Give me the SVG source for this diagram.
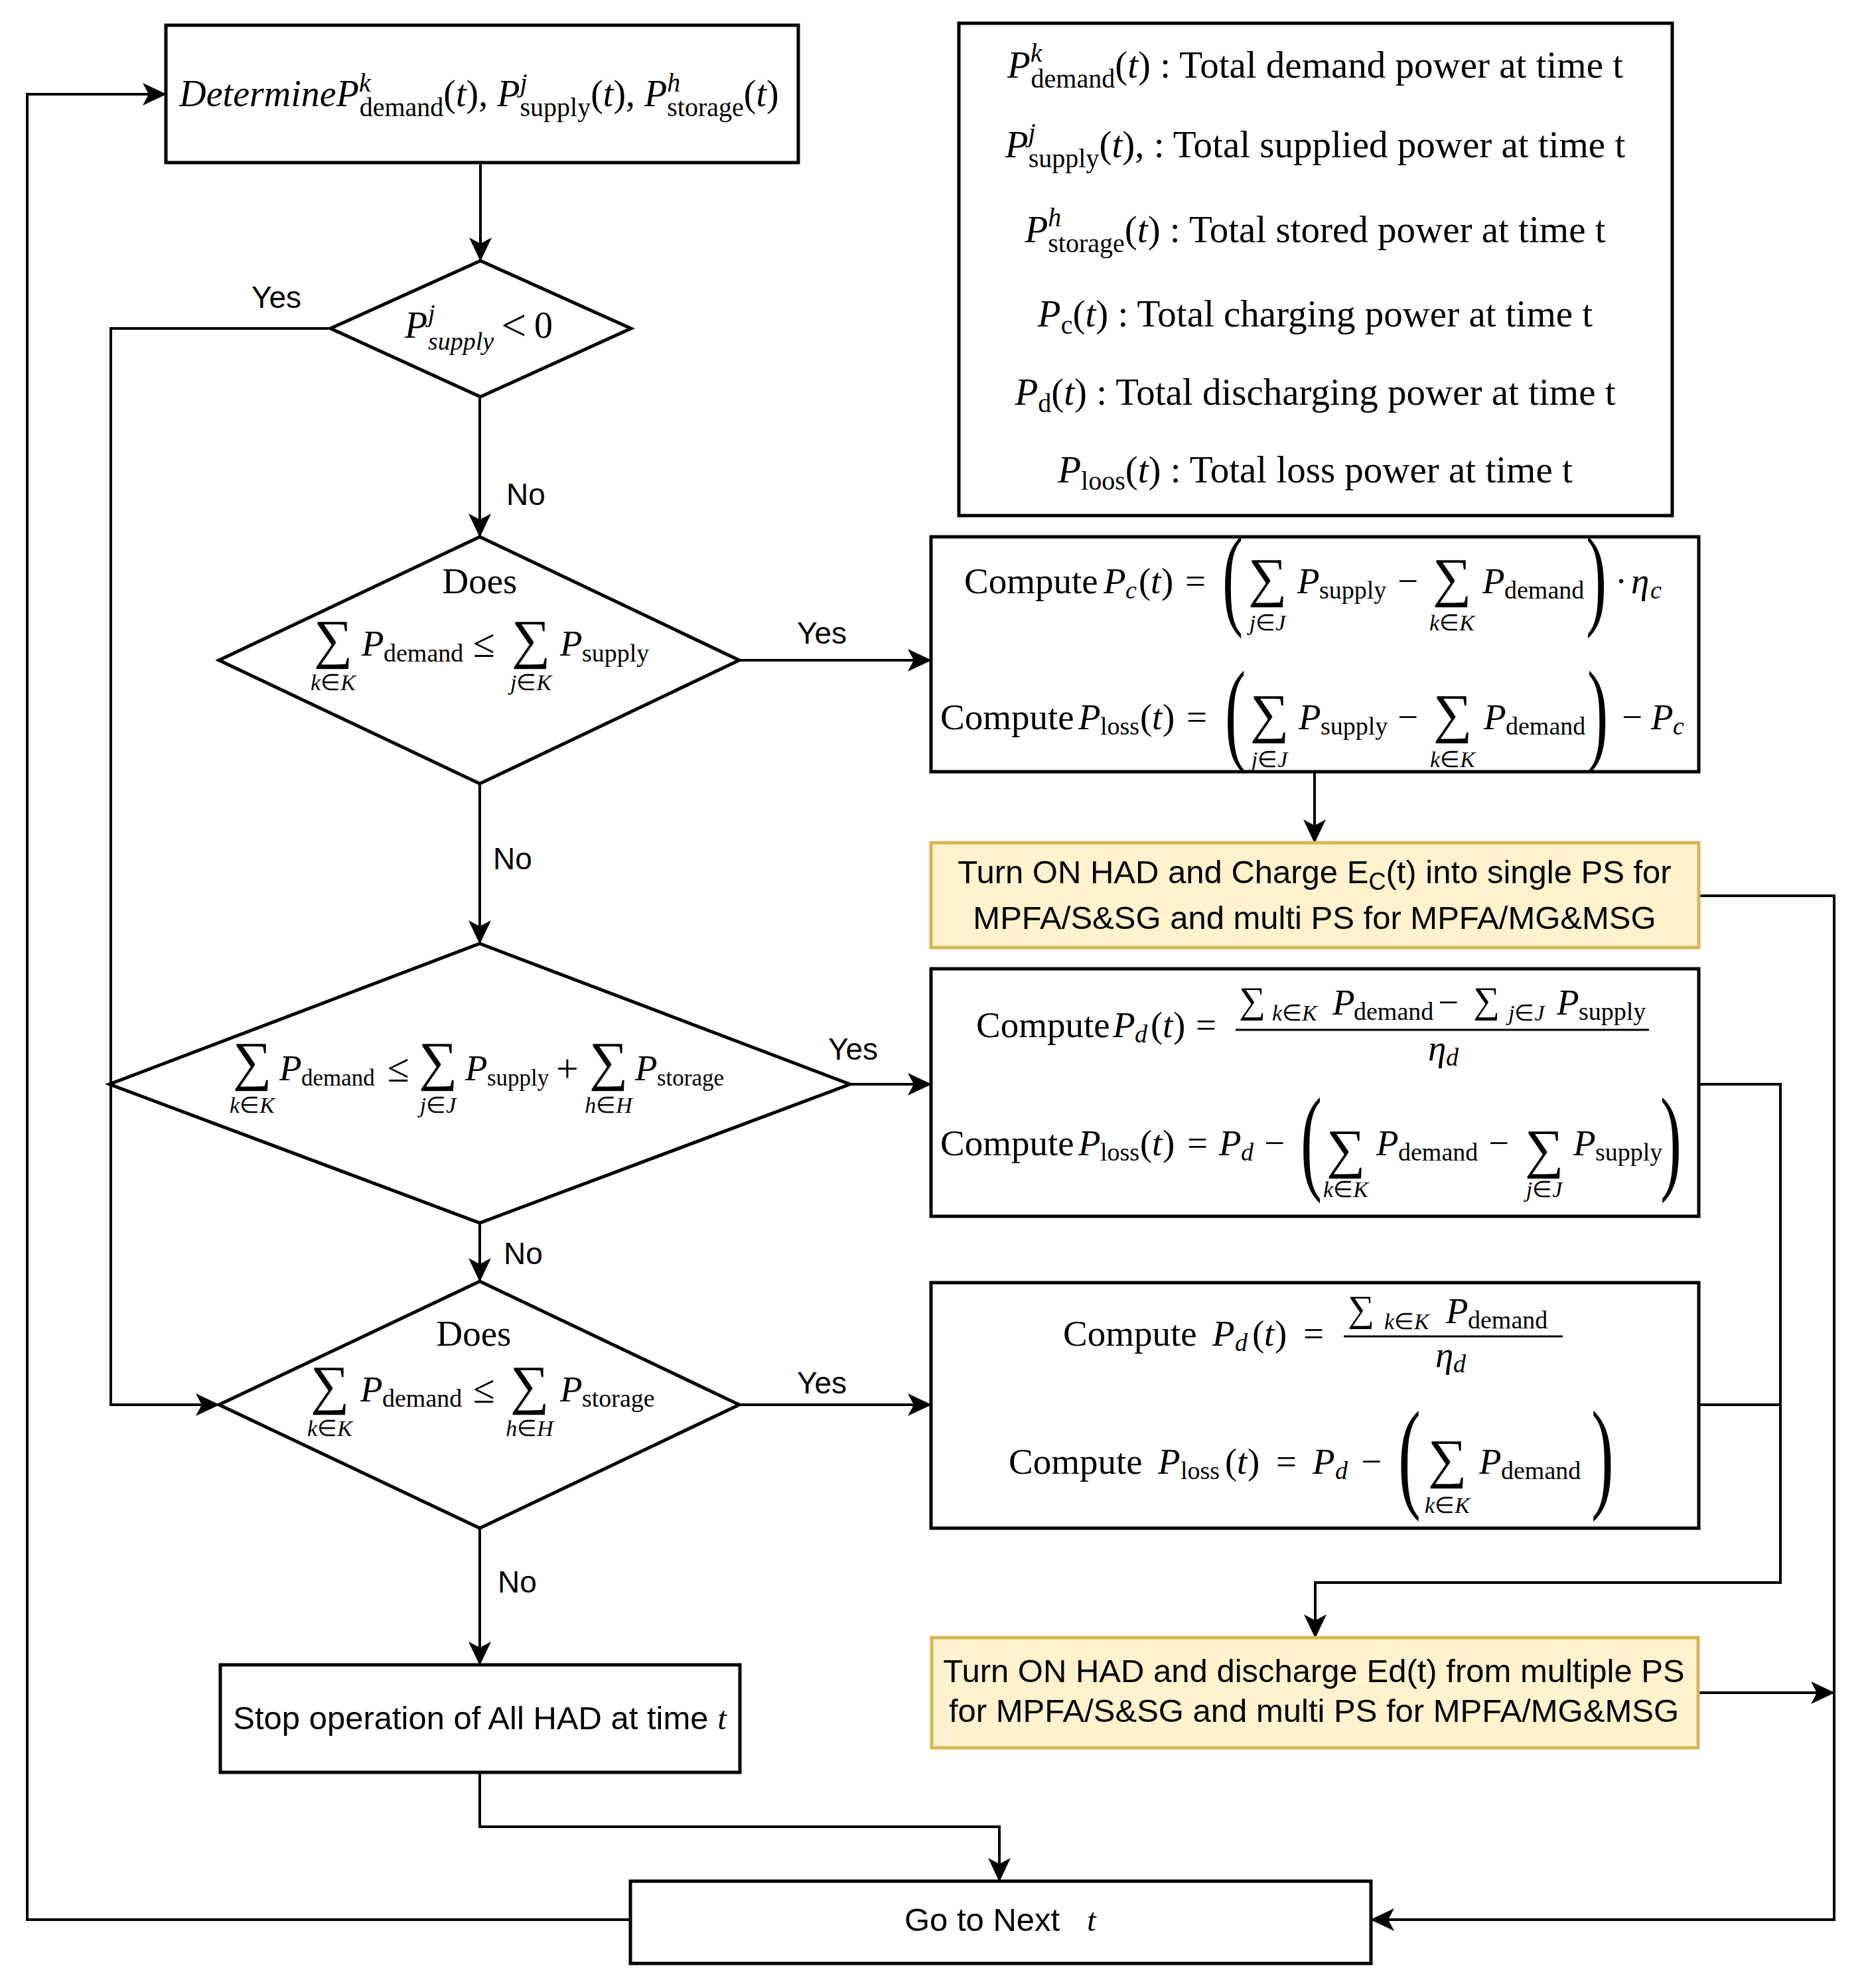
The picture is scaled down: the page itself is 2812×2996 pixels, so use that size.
<svg xmlns="http://www.w3.org/2000/svg" width="2812" height="2996" viewBox="0 0 2812 2996">
<defs>
<style>
.box{fill:#fff;stroke:#000;stroke-width:5}
.yel{fill:#fff2cc;stroke:#d6b656;stroke-width:5}
.ln{fill:none;stroke:#000;stroke-width:4}
.ar{marker-end:url(#ah)}
.m{font-family:"Liberation Serif","Times New Roman",serif;font-size:55px;fill:#000}
.i{font-style:italic}
.sb{font-size:38px}
.sb2{font-size:35px}
.sm{font-size:34px}
.rel{font-size:60px}
.sum{font-family:"Liberation Serif","Times New Roman",serif;font-size:82px;fill:#000}
.ts{font-size:56px}
.lab{font-family:"Liberation Sans",Arial,sans-serif;font-size:46px;fill:#000}
.nt{font-family:"Liberation Sans",Arial,sans-serif;font-size:49px;fill:#000}
.frac{stroke:#000;stroke-width:3}
</style>
<marker id="ah" markerUnits="userSpaceOnUse" markerWidth="36" markerHeight="34" viewBox="0 0 36 34" refX="35" refY="17" orient="auto">
<path d="M0,0 L36,17 L0,34 L9,17 Z" fill="#000"/>
</marker>
</defs>
<rect width="2812" height="2996" fill="#fff"/>

<g id="connectors">
<path class="ln ar" d="M724,245 L724,393"/>
<path class="ln ar" d="M498,495 L167,495 L167,2117 L330,2117"/>
<path class="ln ar" d="M723,598 L723,809"/>
<path class="ln ar" d="M1114,995 L1403,995"/>
<path class="ln ar" d="M723,1181 L723,1422"/>
<path class="ln ar" d="M1281,1634 L1403,1634"/>
<path class="ln ar" d="M723,1843 L723,1931"/>
<path class="ln ar" d="M1114,2117 L1403,2117"/>
<path class="ln ar" d="M723,2303 L723,2509"/>
<path class="ln ar" d="M1981,1163 L1981,1270"/>
<path class="ln ar" d="M2560,1350 L2764,1350 L2764,2893 L2066,2893"/>
<path class="ln ar" d="M2560,1634 L2683,1634 L2683,2385 L1982,2385 L1982,2468"/>
<path class="ln" d="M2560,2117 L2683,2117"/>
<path class="ln ar" d="M2559,2551 L2764,2551"/>
<path class="ln ar" d="M723,2671 L723,2753 L1506,2753 L1506,2835"/>
<path class="ln ar" d="M950,2893 L41,2893 L41,142 L250,142"/>
<text class="lab" x="379" y="464">Yes</text>
<text class="lab" x="763" y="761">No</text>
<text class="lab" x="1201" y="970">Yes</text>
<text class="lab" x="743" y="1310">No</text>
<text class="lab" x="1248" y="1597">Yes</text>
<text class="lab" x="759" y="1905">No</text>
<text class="lab" x="1201" y="2100">Yes</text>
<text class="lab" x="750" y="2400">No</text>
</g>

<g id="determine">
<rect class="box" x="250" y="38" width="953" height="207"/>
<text class="m" x="722" y="160" text-anchor="middle" style="font-size:56px"><tspan class="i">DetermineP</tspan><tspan class="i" style="font-size:40px" dy="-22">k</tspan><tspan style="font-size:40px" dx="-17" dy="37">demand</tspan><tspan dy="-15">(</tspan><tspan class="i">t</tspan>), <tspan class="i">P</tspan><tspan class="i" style="font-size:40px" dy="-22">j</tspan><tspan style="font-size:40px" dx="-11" dy="37">supply</tspan><tspan dy="-15">(</tspan><tspan class="i">t</tspan>), <tspan class="i">P</tspan><tspan class="i" style="font-size:40px" dy="-22">h</tspan><tspan style="font-size:40px" dx="-20" dy="37">storage</tspan><tspan dy="-15">(</tspan><tspan class="i">t</tspan>)</text>
</g>

<g id="legend">
<rect class="box" x="1445" y="35" width="1075" height="742"/>
<text class="m" x="1982" y="117" text-anchor="middle" style="font-size:57px"><tspan class="i">P</tspan><tspan class="i" style="font-size:40px" dy="-24">k</tspan><tspan style="font-size:40px" dx="-17" dy="39">demand</tspan><tspan dy="-15">(</tspan><tspan class="i">t</tspan>) : Total demand power at time t</text>
<text class="m" x="1982" y="237" text-anchor="middle" style="font-size:57px"><tspan class="i">P</tspan><tspan class="i" style="font-size:40px" dy="-24">j</tspan><tspan style="font-size:40px" dx="-11" dy="39">supply</tspan><tspan dy="-15">(</tspan><tspan class="i">t</tspan>), : Total supplied power at time t</text>
<text class="m" x="1982" y="365" text-anchor="middle" style="font-size:57px"><tspan class="i">P</tspan><tspan class="i" style="font-size:40px" dy="-24">h</tspan><tspan style="font-size:40px" dx="-20" dy="39">storage</tspan><tspan dy="-15">(</tspan><tspan class="i">t</tspan>) : Total stored power at time t</text>
<text class="m" x="1982" y="492" text-anchor="middle" style="font-size:57px"><tspan class="i">P</tspan><tspan style="font-size:40px" dy="11">c</tspan><tspan dy="-11">(</tspan><tspan class="i">t</tspan>) : Total charging power at time t</text>
<text class="m" x="1982" y="610" text-anchor="middle" style="font-size:57px"><tspan class="i">P</tspan><tspan style="font-size:40px" dy="11">d</tspan><tspan dy="-11">(</tspan><tspan class="i">t</tspan>) : Total discharging power at time t</text>
<text class="m" x="1982" y="727" text-anchor="middle" style="font-size:57px"><tspan class="i">P</tspan><tspan style="font-size:40px" dy="11">loos</tspan><tspan dy="-11">(</tspan><tspan class="i">t</tspan>) : Total loss power at time t</text>
</g>

<g id="d1">
<polygon class="box" points="724,393 951,495 724,598 498,495"/>
<text class="m" style="font-size:56px"><tspan class="i" x="610" y="509">P</tspan><tspan class="sb i" x="645" y="485">j</tspan><tspan class="sb i" x="645" y="527">supply</tspan><tspan style="font-size:68px" x="755" y="513">&lt;</tspan><tspan x="805" y="509">0</tspan></text>
</g>

<g id="d2">
<polygon class="box" points="723,809 1114,995 723,1181 330,995"/>
<text class="m" x="723" y="894" text-anchor="middle">Does</text>
<text class="sum" x="502" y="991" text-anchor="middle">∑</text>
<text class="m sm" x="502" y="1040" text-anchor="middle"><tspan class="i">k</tspan>∈<tspan class="i">K</tspan></text>
<text class="m"><tspan class="i" x="545" y="988">P</tspan><tspan class="sb" x="578" y="997">demand</tspan><tspan class="rel" x="713" y="990">≤</tspan><tspan class="i" x="844" y="988">P</tspan><tspan class="sb" x="877" y="997">supply</tspan></text>
<text class="sum" x="800" y="991" text-anchor="middle">∑</text>
<text class="m sm" x="800" y="1040" text-anchor="middle"><tspan class="i">j</tspan>∈<tspan class="i">K</tspan></text>
</g>

<g id="d3">
<polygon class="box" points="723,1422 1281,1634 723,1843 165,1634"/>
<text class="sum" x="380" y="1627" text-anchor="middle">∑</text>
<text class="m sm" x="380" y="1677" text-anchor="middle"><tspan class="i">k</tspan>∈<tspan class="i">K</tspan></text>
<text class="sum" x="660" y="1627" text-anchor="middle">∑</text>
<text class="m sm" x="660" y="1677" text-anchor="middle"><tspan class="i">j</tspan>∈<tspan class="i">J</tspan></text>
<text class="sum" x="917" y="1627" text-anchor="middle">∑</text>
<text class="m sm" x="917" y="1677" text-anchor="middle"><tspan class="i">h</tspan>∈<tspan class="i">H</tspan></text>
<text class="m"><tspan class="i" x="421" y="1628">P</tspan><tspan class="sb2" x="454" y="1636">demand</tspan><tspan class="rel" x="584" y="1630">≤</tspan><tspan class="i" x="701" y="1628">P</tspan><tspan class="sb2" x="734" y="1636">supply</tspan><tspan class="rel" x="838" y="1630">+</tspan><tspan class="i" x="957" y="1628">P</tspan><tspan class="sb2" x="990" y="1636">storage</tspan></text>
</g>

<g id="d4">
<polygon class="box" points="723,1931 1114,2117 723,2303 330,2117"/>
<text class="m" x="714" y="2028" text-anchor="middle">Does</text>
<text class="sum" x="497" y="2115" text-anchor="middle">∑</text>
<text class="m sm" x="497" y="2164" text-anchor="middle"><tspan class="i">k</tspan>∈<tspan class="i">K</tspan></text>
<text class="sum" x="798" y="2115" text-anchor="middle">∑</text>
<text class="m sm" x="798" y="2164" text-anchor="middle"><tspan class="i">h</tspan>∈<tspan class="i">H</tspan></text>
<text class="m"><tspan class="i" x="543" y="2112">P</tspan><tspan class="sb" x="576" y="2120">demand</tspan><tspan class="rel" x="713" y="2114">≤</tspan><tspan class="i" x="844" y="2112">P</tspan><tspan class="sb" x="877" y="2120">storage</tspan></text>
</g>

<g id="compute1">
<rect class="box" x="1403" y="809" width="1157" height="354"/>
<text class="m"><tspan x="1453" y="894">Compute</tspan><tspan class="i" x="1663" y="894">P</tspan><tspan class="sb i" x="1696" y="902">c</tspan><tspan x="1716" y="894">(</tspan><tspan class="i" x="1734" y="894">t</tspan><tspan x="1750" y="894">)</tspan><tspan x="1786" y="894">=</tspan><tspan class="i" x="1955" y="894">P</tspan><tspan class="sb" x="1988" y="902">supply</tspan><tspan x="2106" y="894">−</tspan><tspan class="i" x="2234" y="894">P</tspan><tspan class="sb" x="2267" y="902">demand</tspan><tspan x="2434" y="894">·</tspan><tspan class="i" x="2458" y="894">η</tspan><tspan class="sb i" x="2487" y="902">c</tspan></text>
<text class="m" transform="translate(1842,926) scale(0.55,1)" style="font-size:170px">(</text>
<text class="m" transform="translate(2390,926) scale(0.55,1)" style="font-size:170px">)</text>
<text class="sum" x="1910" y="898" text-anchor="middle">∑</text>
<text class="m sm" x="1910" y="950" text-anchor="middle"><tspan class="i">j</tspan>∈<tspan class="i">J</tspan></text>
<text class="sum" x="2188" y="898" text-anchor="middle">∑</text>
<text class="m sm" x="2188" y="950" text-anchor="middle"><tspan class="i">k</tspan>∈<tspan class="i">K</tspan></text>
<text class="m"><tspan x="1417" y="1099">Compute</tspan><tspan class="i" x="1625" y="1099">P</tspan><tspan class="sb" x="1658" y="1107">loss</tspan><tspan x="1718" y="1099">(</tspan><tspan class="i" x="1736" y="1099">t</tspan><tspan x="1752" y="1099">)</tspan><tspan x="1788" y="1099">=</tspan><tspan class="i" x="1957" y="1099">P</tspan><tspan class="sb" x="1990" y="1107">supply</tspan><tspan x="2106" y="1099">−</tspan><tspan class="i" x="2236" y="1099">P</tspan><tspan class="sb" x="2269" y="1107">demand</tspan><tspan x="2444" y="1099">−</tspan><tspan class="i" x="2488" y="1099">P</tspan><tspan class="sb i" x="2521" y="1107">c</tspan></text>
<text class="m" transform="translate(1846,1130) scale(0.55,1)" style="font-size:171px">(</text>
<text class="m" transform="translate(2392,1130) scale(0.55,1)" style="font-size:171px">)</text>
<text class="sum" x="1913" y="1103" text-anchor="middle">∑</text>
<text class="m sm" x="1913" y="1156" text-anchor="middle"><tspan class="i">j</tspan>∈<tspan class="i">J</tspan></text>
<text class="sum" x="2189" y="1103" text-anchor="middle">∑</text>
<text class="m sm" x="2189" y="1156" text-anchor="middle"><tspan class="i">k</tspan>∈<tspan class="i">K</tspan></text>
</g>

<g id="charge">
<rect class="yel" x="1403" y="1270" width="1157" height="158"/>
<text class="nt" x="1981" y="1331" text-anchor="middle">Turn ON HAD and Charge E<tspan style="font-size:36px" dy="10">C</tspan><tspan dy="-10">(t) into single PS for</tspan></text>
<text class="nt" x="1981" y="1400" text-anchor="middle">MPFA/S&amp;SG and multi PS for MPFA/MG&amp;MSG</text>
</g>

<g id="compute2">
<rect class="box" x="1403" y="1460" width="1157" height="373"/>
<text class="m"><tspan x="1471" y="1563">Compute</tspan><tspan class="i" x="1677" y="1563">P</tspan><tspan class="sb i" x="1710" y="1571">d</tspan><tspan x="1734" y="1563">(</tspan><tspan class="i" x="1752" y="1563">t</tspan><tspan x="1768" y="1563">)</tspan><tspan x="1802" y="1563">=</tspan></text>
<line class="frac" x1="1862" y1="1552" x2="2485" y2="1552"/>
<text class="m"><tspan class="ts" x="1867" y="1526">∑</tspan><tspan class="sm i" x="1917" y="1538">k</tspan><tspan class="sm">∈</tspan><tspan class="sm i">K</tspan><tspan class="i" x="2008" y="1529">P</tspan><tspan class="sb" x="2040" y="1537">demand</tspan><tspan x="2167" y="1529">−</tspan><tspan class="ts" x="2220" y="1526">∑</tspan><tspan class="sm i" x="2273" y="1538">j</tspan><tspan class="sm">∈</tspan><tspan class="sm i">J</tspan><tspan class="i" x="2346" y="1529">P</tspan><tspan class="sb" x="2379" y="1537">supply</tspan></text>
<text class="m"><tspan class="i" x="2152" y="1598">η</tspan><tspan class="sb i" x="2179" y="1606">d</tspan></text>
<text class="m"><tspan x="1417" y="1741">Compute</tspan><tspan class="i" x="1625" y="1741">P</tspan><tspan class="sb" x="1658" y="1749">loss</tspan><tspan x="1718" y="1741">(</tspan><tspan class="i" x="1736" y="1741">t</tspan><tspan x="1752" y="1741">)</tspan><tspan x="1789" y="1741">=</tspan><tspan class="i" x="1837" y="1741">P</tspan><tspan class="sb i" x="1870" y="1749">d</tspan><tspan x="1905" y="1741">−</tspan><tspan class="i" x="2074" y="1741">P</tspan><tspan class="sb" x="2107" y="1749">demand</tspan><tspan x="2243" y="1741">−</tspan><tspan class="i" x="2371" y="1741">P</tspan><tspan class="sb" x="2404" y="1749">supply</tspan></text>
<text class="m" transform="translate(1960,1776) scale(0.55,1)" style="font-size:175px">(</text>
<text class="m" transform="translate(2502,1776) scale(0.55,1)" style="font-size:175px">)</text>
<text class="sum" x="2028" y="1759" text-anchor="middle">∑</text>
<text class="m sm" x="2028" y="1804" text-anchor="middle"><tspan class="i">k</tspan>∈<tspan class="i">K</tspan></text>
<text class="sum" x="2327" y="1759" text-anchor="middle">∑</text>
<text class="m sm" x="2327" y="1804" text-anchor="middle"><tspan class="i">j</tspan>∈<tspan class="i">J</tspan></text>
</g>

<g id="compute3">
<rect class="box" x="1403" y="1933" width="1157" height="370"/>
<text class="m"><tspan x="1602" y="2028">Compute</tspan><tspan class="i" x="1827" y="2028">P</tspan><tspan class="sb i" x="1861" y="2036">d</tspan><tspan x="1887" y="2028">(</tspan><tspan class="i" x="1905" y="2028">t</tspan><tspan x="1921" y="2028">)</tspan><tspan x="1964" y="2028">=</tspan></text>
<line class="frac" x1="2025" y1="2014" x2="2355" y2="2014"/>
<text class="m"><tspan class="ts" x="2031" y="1991">∑</tspan><tspan class="sm i" x="2086" y="2003">k</tspan><tspan class="sm">∈</tspan><tspan class="sm i">K</tspan><tspan class="i" x="2179" y="1994">P</tspan><tspan class="sb" x="2212" y="2002">demand</tspan></text>
<text class="m"><tspan class="i" x="2163" y="2060">η</tspan><tspan class="sb i" x="2190" y="2068">d</tspan></text>
<text class="m"><tspan x="1520" y="2221">Compute</tspan><tspan class="i" x="1745" y="2221">P</tspan><tspan class="sb" x="1779" y="2229">loss</tspan><tspan x="1846" y="2221">(</tspan><tspan class="i" x="1864" y="2221">t</tspan><tspan x="1880" y="2221">)</tspan><tspan x="1923" y="2221">=</tspan><tspan class="i" x="1978" y="2221">P</tspan><tspan class="sb i" x="2012" y="2229">d</tspan><tspan x="2051" y="2221">−</tspan><tspan class="i" x="2229" y="2221">P</tspan><tspan class="sb" x="2262" y="2229">demand</tspan></text>
<text class="m" transform="translate(2107,2254) scale(0.55,1)" style="font-size:185px">(</text>
<text class="m" transform="translate(2398,2254) scale(0.55,1)" style="font-size:185px">)</text>
<text class="sum" x="2181" y="2226" text-anchor="middle">∑</text>
<text class="m sm" x="2181" y="2280" text-anchor="middle"><tspan class="i">k</tspan>∈<tspan class="i">K</tspan></text>
</g>

<g id="discharge">
<rect class="yel" x="1404" y="2468" width="1155" height="166"/>
<text class="nt" x="1980" y="2535" text-anchor="middle">Turn ON HAD and discharge Ed(t) from multiple PS</text>
<text class="nt" x="1980" y="2595" text-anchor="middle">for MPFA/S&amp;SG and multi PS for MPFA/MG&amp;MSG</text>
</g>

<g id="stop">
<rect class="box" x="332" y="2509" width="783" height="162"/>
<text class="nt" x="723" y="2606" text-anchor="middle">Stop operation of All HAD at time <tspan class="i" style="font-family:'Liberation Serif',serif">t</tspan></text>
</g>

<g id="next">
<rect class="box" x="950" y="2835" width="1116" height="124"/>
<text class="nt" x="1363" y="2910">Go to Next</text>
<text class="nt i" x="1638" y="2910" style="font-family:'Liberation Serif',serif">t</text>
</g>
</svg>
